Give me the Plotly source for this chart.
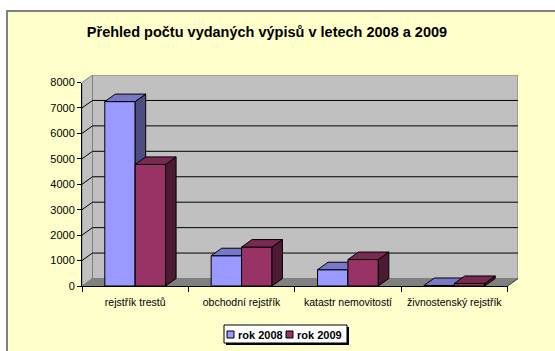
import plotly.graph_objects as go

# --- data -------------------------------------------------------------
categories = ["rejstřík trestů", "obchodní rejstřík", "katastr nemovitostí", "živnostenský rejstřík"]
series_names = ["rok 2008", "rok 2009"]
values_2008 = [7250, 1190, 640, 20]
values_2009 = [4780, 1530, 1040, 100]
y_tick_values = [0, 1000, 2000, 3000, 4000, 5000, 6000, 7000, 8000]
title_text = "Přehled počtu vydaných výpisů v letech 2008 a 2009"

# --- styling ------------------------------------------------------------
FONT = "Liberation Sans, Arial, sans-serif"
FRONT = ["#9999FF", "#993366"]
SIDE = ["#4D4D80", "#4D1A33"]
TOP = ["#7878C8", "#7A2952"]
WALL = "#C0C0C0"
FLOOR = "#808080"
EDGE = "#808080"

W, H = 555, 351
ML, MR, MT, MB = 82, 37, 75, 65
PW, PH = W - ML - MR, H - MT - MB

# 3-D depth of the box, in pixels
DEPTH_PX_X, DEPTH_PX_Y = 10.5, 7.5

n_cat = len(categories)
y_max = y_tick_values[-1]
ux = (PW - DEPTH_PX_X) / n_cat          # px per category
uy = (PH - DEPTH_PX_Y) / y_max          # px per value unit
dx = DEPTH_PX_X / ux
dy = DEPTH_PX_Y / uy
x_range = [0, n_cat + dx]
y_range = [0, y_max + dy]

BAR_W = 1 / 3.5                          # gap width 150 %


def px(x):
    return (x - ML) / PW


def py(y):
    return 1 - (y - MT) / PH


fig = go.Figure()

# --- bars: each series on its own overlaid axis pair so later series sit in front
series_values = [values_2008, values_2009]
axis_pairs = [("x", "y"), ("x2", "y2")]
for k, vals in enumerate(series_values):
    xa, ya = axis_pairs[k]
    centers = [i + 0.5 + (k - 0.5) * BAR_W for i in range(n_cat)]
    fig.add_trace(go.Bar(
        x=centers, y=vals, width=BAR_W, name=series_names[k],
        marker=dict(color=FRONT[k], line=dict(color="black", width=1)),
        xaxis=xa, yaxis=ya, showlegend=False, hoverinfo="skip",
    ))
    sx, sy, tx, ty = [], [], [], []
    for c, v in zip(centers, vals):
        x0, x1 = c - BAR_W / 2, c + BAR_W / 2
        sx += [x1, x1 + dx, x1 + dx, x1, x1, None]
        sy += [0, dy, v + dy, v, 0, None]
        tx += [x0, x0 + dx, x1 + dx, x1, x0, None]
        ty += [v, v + dy, v + dy, v, v, None]
    fig.add_trace(go.Scatter(
        x=sx, y=sy, mode="lines", fill="toself", fillcolor=SIDE[k],
        line=dict(color="black", width=1), xaxis=xa, yaxis=ya,
        showlegend=False, hoverinfo="skip",
    ))
    fig.add_trace(go.Scatter(
        x=tx, y=ty, mode="lines", fill="toself", fillcolor=TOP[k],
        line=dict(color="black", width=1), xaxis=xa, yaxis=ya,
        showlegend=False, hoverinfo="skip",
    ))

# empty trace so the visible front axes get their own subplot
fig.add_trace(go.Scatter(x=[None], y=[None], xaxis="x3", yaxis="y3",
                         showlegend=False, hoverinfo="skip"))

# --- walls, floor and gridlines ------------------------------------------
shapes = []
# chart area background and border
shapes.append(dict(type="rect", xref="paper", yref="paper", layer="below",
                   x0=px(7), y0=py(11), x1=px(W + 10), y1=py(H + 10),
                   fillcolor="#FFFFCC", line=dict(color="#808080", width=2)))
# side wall
shapes.append(dict(type="path", xref="x", yref="y", layer="below",
                   path=f"M0,0 L{dx},{dy} L{dx},{y_max + dy} L0,{y_max} Z",
                   fillcolor=WALL, line=dict(color=EDGE, width=1)))
# back wall
shapes.append(dict(type="rect", xref="x", yref="y", layer="below",
                   x0=dx, y0=dy, x1=n_cat + dx, y1=y_max + dy,
                   fillcolor=WALL, line=dict(color=EDGE, width=1)))
# floor
shapes.append(dict(type="path", xref="x", yref="y", layer="below",
                   path=f"M0,0 L{n_cat},0 L{n_cat + dx},{dy} L{dx},{dy} Z",
                   fillcolor=FLOOR, line=dict(color=EDGE, width=1)))
# gridlines on side and back wall
for v in y_tick_values[1:-1]:
    shapes.append(dict(type="line", xref="x", yref="y", layer="below",
                       x0=0, y0=v, x1=dx, y1=v + dy,
                       line=dict(color="black", width=1)))
    shapes.append(dict(type="line", xref="x", yref="y", layer="below",
                       x0=dx, y0=v + dy, x1=n_cat + dx, y1=v + dy,
                       line=dict(color="black", width=1)))
# right floor edge
shapes.append(dict(type="line", xref="x", yref="y", layer="below",
                   x0=n_cat, y0=0, x1=n_cat + dx, y1=dy,
                   line=dict(color="#404040", width=1)))

# --- legend box ----------------------------------------------------------
shapes.append(dict(type="rect", xref="paper", yref="paper",
                   x0=px(226), y0=py(345), x1=px(349), y1=py(327),
                   fillcolor="black", line=dict(width=0)))
shapes.append(dict(type="rect", xref="paper", yref="paper",
                   x0=px(224), y0=py(343), x1=px(347), y1=py(325),
                   fillcolor="white", line=dict(color="black", width=1)))
annotations = []
legend_sq_x = [227, 286]
legend_txt_x = [236, 295]
for k in range(2):
    shapes.append(dict(type="rect", xref="paper", yref="paper",
                       x0=px(legend_sq_x[k]), y0=py(338), x1=px(legend_sq_x[k] + 7), y1=py(331),
                       fillcolor=FRONT[k], line=dict(color="black", width=1)))
    annotations.append(dict(xref="paper", yref="paper", x=px(legend_txt_x[k]), y=py(334.5),
                            xanchor="left", yanchor="middle", showarrow=False,
                            text=f"<b>{series_names[k]}</b>",
                            font=dict(family=FONT, size=11, color="black")))

fig.update_layout(
    width=W, height=H,
    margin=dict(l=ML, r=MR, t=MT, b=MB, pad=0),
    paper_bgcolor="white", plot_bgcolor="rgba(0,0,0,0)",
    showlegend=False,
    title=dict(text=title_text, x=267 / W, xref="container", xanchor="center",
               y=1 - 32 / H, yref="container", yanchor="middle",
               font=dict(family=FONT, size=14.5, color="black", weight="bold")),
    font=dict(family=FONT, color="black"),
    shapes=shapes, annotations=annotations,
    barmode="overlay",
    xaxis=dict(range=x_range, visible=False, fixedrange=True),
    yaxis=dict(range=y_range, visible=False, fixedrange=True),
    xaxis2=dict(range=x_range, overlaying="x", anchor="y2", visible=False, fixedrange=True),
    yaxis2=dict(range=y_range, overlaying="y", anchor="x2", visible=False, fixedrange=True),
    xaxis3=dict(domain=[0, n_cat / (n_cat + dx)], range=[0, n_cat], anchor="y3",
                showline=True, linecolor="black", linewidth=1,
                showgrid=False, zeroline=False,
                tickvals=[i + 0.5 for i in range(n_cat)], ticktext=categories,
                ticks="", ticklabelstandoff=6,
                tickfont=dict(family=FONT, size=10.5, color="black"),
                minor=dict(tickvals=list(range(n_cat + 1)), ticks="outside",
                           ticklen=5, tickcolor="black", tickwidth=1, showgrid=False),
                fixedrange=True),
    yaxis3=dict(domain=[0, y_max / (y_max + dy)], range=[0, y_max], anchor="x3",
                showline=True, linecolor="black", linewidth=1,
                showgrid=False, zeroline=False,
                tickvals=y_tick_values, ticks="outside", ticklen=4,
                tickcolor="black", tickwidth=1,
                tickfont=dict(family=FONT, size=11, color="black"),
                fixedrange=True),
)

fig.write_html("out.html")
